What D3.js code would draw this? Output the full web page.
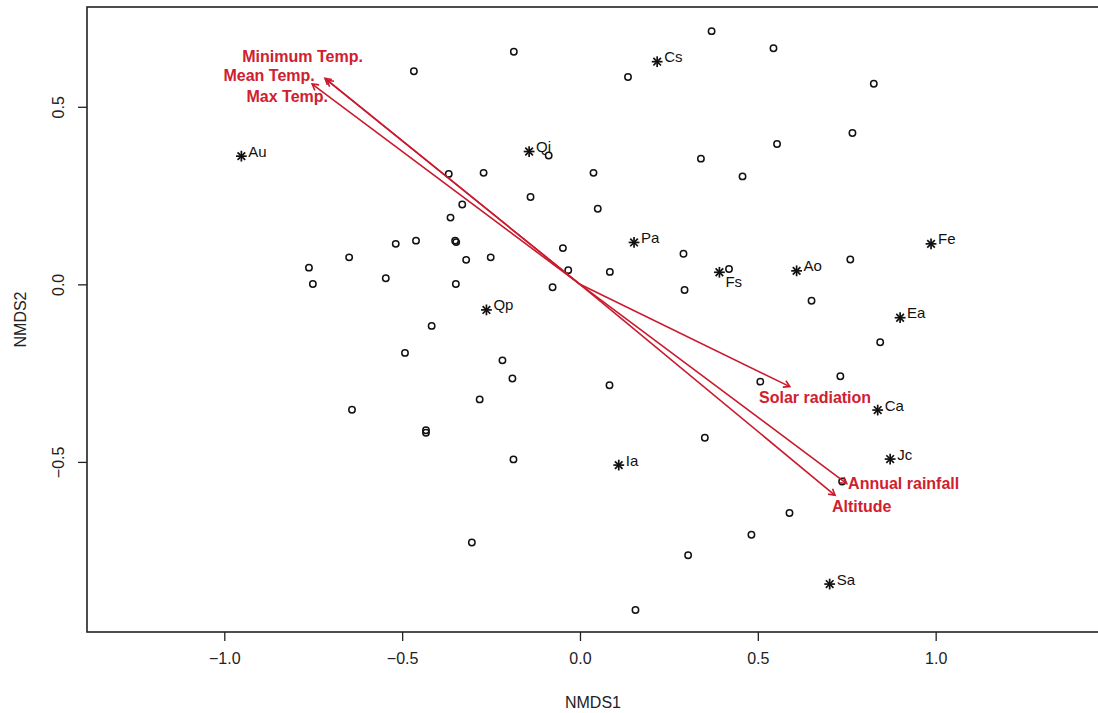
<!DOCTYPE html>
<html>
<head>
<meta charset="utf-8">
<script src="https://cdn.jsdelivr.net/npm/d3@7"></script>
<style>
  html, body { margin: 0; padding: 0; background: #fff; }
  svg { display: block; font-family: "Liberation Sans", Arial, Helvetica, sans-serif; }
</style>
</head>
<body>
<svg id="chart" width="1098" height="713"></svg>
<script>
// Site scores (NMDS1, NMDS2)
const siteX = [-0.186, -0.467, 0.135, 0.370, 0.544, -0.088, -0.369, -0.271, 0.038, 0.340,
               0.457, 0.554, -0.139, 0.050, -0.331, -0.364, 0.826, 0.766, -0.518, -0.461,
               -0.351, -0.348, -0.320, -0.251, -0.546, -0.349, -0.417, -0.492, -0.218, -0.190,
               -0.282, -0.433, -0.433, -0.048, -0.033, -0.077, 0.084, 0.291, 0.294, 0.419,
               0.083, 0.507, 0.351, -0.187, -0.762, -0.751, -0.649, -0.641, 0.760, 0.651,
               0.844, 0.732, -0.304, 0.304, 0.482, 0.156, 0.737, 0.589];
const siteY = [0.655, 0.600, 0.584, 0.713, 0.665, 0.363, 0.311, 0.314, 0.314, 0.354,
               0.304, 0.395, 0.246, 0.213, 0.225, 0.188, 0.565, 0.426, 0.114, 0.123,
               0.123, 0.119, 0.069, 0.076, 0.017, 0.001, -0.117, -0.193, -0.214, -0.265,
               -0.324, -0.411, -0.418, 0.102, 0.040, -0.008, 0.035, 0.086, -0.016, 0.043,
               -0.284, -0.274, -0.432, -0.493, 0.047, 0.001, 0.076, -0.353, 0.070, -0.046,
               -0.163, -0.259, -0.727, -0.763, -0.705, -0.917, -0.555, -0.644];

// Species scores
const speciesNames = ["Cs", "Au", "Qi", "Pa", "Fs", "Qp", "Ia", "Fe", "Ao", "Ea", "Ca", "Jc", "Sa"];
const speciesX = [0.217, -0.952, -0.143, 0.152, 0.392, -0.263, 0.109, 0.987, 0.609, 0.900, 0.837, 0.872, 0.702];
const speciesY = [0.627, 0.361, 0.374, 0.118, 0.034, -0.072, -0.509, 0.114, 0.038, -0.094, -0.354, -0.492, -0.844];

// Environmental vectors (envfit arrows) and where their labels sit
const vectorNames = ["Minimum Temp.", "Mean Temp.", "Max Temp.", "Solar radiation", "Annual rainfall", "Altitude"];
const vectorX = [-0.717, -0.711, -0.753, 0.590, 0.750, 0.717];
const vectorY = [0.580, 0.575, 0.564, -0.288, -0.561, -0.594];
const vectorLabelX = [-0.780, -0.874, -0.823, 0.661, 0.910, 0.792];
const vectorLabelY = [0.641, 0.587, 0.530, -0.319, -0.561, -0.626];

const xTicks = [-1.0, -0.5, 0.0, 0.5, 1.0];
const yTicks = [-0.5, 0.0, 0.5];

const svg = d3.select("#chart");
const plot = { left: 87, right: 1100, top: 7, bottom: 632 };

const x = d3.scaleLinear().domain([-1.386, 1.462]).range([plot.left, plot.right]);
const y = d3.scaleLinear().domain([-0.979, 0.781]).range([plot.bottom, plot.top]);

const fmt = v => d3.format(".1f")(v).replace("-", "\u2212");

// Axes
const xAxis = d3.axisBottom(x).tickValues(xTicks).tickSize(9).tickPadding(12).tickFormat(fmt);
const gx = svg.append("g").attr("transform", `translate(0,${plot.bottom})`).call(xAxis);
gx.select(".domain").remove();
gx.selectAll("line").attr("stroke", "#222").attr("stroke-width", 1.3);
gx.selectAll("text").attr("font-size", 16).attr("fill", "#222")
  .attr("font-family", "'Liberation Sans', Arial, sans-serif");

const yAxis = d3.axisLeft(y).tickValues(yTicks).tickSize(9).tickPadding(0).tickFormat(fmt);
const gy = svg.append("g").attr("transform", `translate(${plot.left},0)`).call(yAxis);
gy.select(".domain").remove();
gy.selectAll("line").attr("stroke", "#222").attr("stroke-width", 1.3);
gy.selectAll("text")
  .attr("font-size", 16).attr("fill", "#222")
  .attr("font-family", "'Liberation Sans', Arial, sans-serif")
  .attr("x", null).attr("dy", null)
  .attr("text-anchor", "middle")
  .attr("dominant-baseline", "central")
  .attr("transform", "translate(-29,0) rotate(-90)");

// Plot frame
svg.append("rect")
  .attr("x", plot.left).attr("y", plot.top)
  .attr("width", plot.right - plot.left).attr("height", plot.bottom - plot.top)
  .attr("fill", "none").attr("stroke", "#222").attr("stroke-width", 1.6);

// Axis titles
svg.append("text")
  .attr("x", 593).attr("y", 702)
  .attr("text-anchor", "middle").attr("dominant-baseline", "central")
  .attr("font-size", 16).attr("fill", "#222").text("NMDS1");
svg.append("text")
  .attr("transform", `translate(20,${(plot.top + plot.bottom) / 2}) rotate(-90)`)
  .attr("text-anchor", "middle").attr("dominant-baseline", "central")
  .attr("font-size", 16).attr("fill", "#222").text("NMDS2");

// Sites: open circles
svg.append("g").selectAll("circle")
  .data(d3.range(siteX.length))
  .join("circle")
  .attr("cx", i => x(siteX[i]))
  .attr("cy", i => y(siteY[i]))
  .attr("r", 3.2)
  .attr("fill", "none")
  .attr("stroke", "#111")
  .attr("stroke-width", 1.5);

// Species: asterisks with labels
const gs = svg.append("g");
speciesNames.forEach((name, i) => {
  const cx = x(speciesX[i]), cy = y(speciesY[i]);
  const s = 5.4;
  const g = gs.append("g").attr("transform", `translate(${cx},${cy})`);
  const d = 0.7071 * s;
  [[-s, 0, s, 0], [0, -s, 0, s], [-d, -d, d, d], [-d, d, d, -d]].forEach(l => {
    g.append("line")
      .attr("x1", l[0]).attr("y1", l[1]).attr("x2", l[2]).attr("y2", l[3])
      .attr("stroke", "#111").attr("stroke-width", 1.7);
  });
  const below = name === "Fs";
  gs.append("text")
    .attr("x", cx + (below ? 6 : 7))
    .attr("y", cy + (below ? 9.5 : -5))
    .attr("dominant-baseline", "central")
    .attr("font-size", 15).attr("fill", "#111")
    .text(name);
});

// Environmental arrows
const red = "#c91a2e";
const gv = svg.append("g");
const x0 = x(0), y0 = y(0);
vectorNames.forEach((name, i) => {
  const x1 = x(vectorX[i]), y1 = y(vectorY[i]);
  gv.append("line")
    .attr("x1", x0).attr("y1", y0).attr("x2", x1).attr("y2", y1)
    .attr("stroke", red).attr("stroke-width", 1.6);
  const ang = Math.atan2(y1 - y0, x1 - x0);
  const len = 7, spread = Math.PI / 6;
  const pts = [
    [x1 - len * Math.cos(ang - spread), y1 - len * Math.sin(ang - spread)],
    [x1, y1],
    [x1 - len * Math.cos(ang + spread), y1 - len * Math.sin(ang + spread)]
  ];
  gv.append("path")
    .attr("d", d3.line()(pts))
    .attr("fill", "none").attr("stroke", red).attr("stroke-width", 1.6);
  gv.append("text")
    .attr("x", x(vectorLabelX[i])).attr("y", y(vectorLabelY[i]))
    .attr("text-anchor", "middle").attr("dominant-baseline", "central")
    .attr("font-size", 16).attr("font-weight", "bold").attr("fill", "#d0202e")
    .text(name);
});
</script>
</body>
</html>
